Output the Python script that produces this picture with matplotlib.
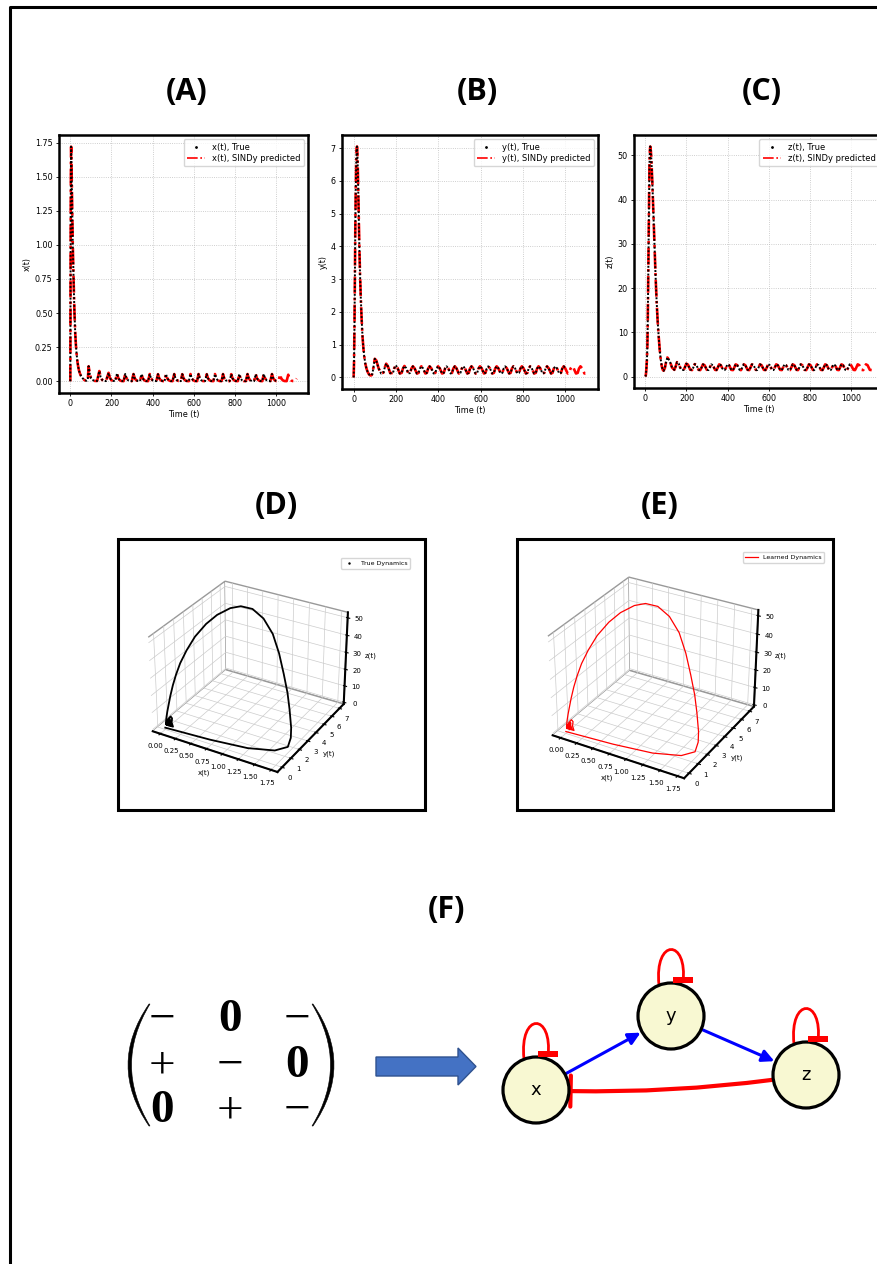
import numpy as np
import matplotlib
matplotlib.use('Agg')
import matplotlib.pyplot as plt
from matplotlib.lines import Line2D
from matplotlib.patches import Rectangle, Circle, FancyArrow, FancyArrowPatch, PathPatch
from matplotlib.path import Path

W, H = 878, 1264

# sampled trajectory of the true system (t <= 1000)
t_true = [
    0, 1, 2, 3, 4, 5, 6, 8, 10, 12, 14, 16, 18, 20, 22, 24, 27, 30, 34, 38,
    42, 46, 50, 55, 60, 65, 70, 75, 80, 85,
    89, 95, 100, 107, 118, 130,
    141, 147, 154, 162, 173,
    186, 192, 199, 207, 218,
    227, 233, 240, 248, 259,
    267, 273, 280, 288, 299,
    307, 313, 320, 328, 339,
    346, 352, 359, 367, 378,
    386, 392, 399, 407, 418,
    426, 432, 439, 447, 458,
    465, 471, 478, 486, 497,
    505, 511, 518, 526, 537,
    544, 550, 557, 565, 576,
    584, 590, 597, 605, 616,
    623, 629, 636, 644, 655,
    663, 669, 676, 684, 695,
    703, 709, 716, 724, 735,
    742, 748, 755, 763, 774,
    782, 788, 795, 803, 814,
    821, 827, 834, 842, 853,
    861, 867, 874, 882, 893,
    901, 907, 914, 922, 933,
    940, 946, 953, 961, 972,
    980, 986, 993, 1000,
]
x_true = [
    0.0, 0.70, 1.25, 1.60, 1.72, 1.66, 1.56, 1.35, 1.17, 1.00, 0.86, 0.74, 0.62, 0.51, 0.42, 0.35, 0.27, 0.21, 0.15, 0.11,
    0.08, 0.06, 0.045, 0.032, 0.022, 0.014, 0.008, 0.005, 0.004, 0.010,
    0.110, 0.050, 0.025, 0.010, 0.003, 0.002,
    0.075, 0.032, 0.011, 0.004, 0.001,
    0.062, 0.026, 0.009, 0.003, 0.001,
    0.057, 0.024, 0.008, 0.002, 0.001,
    0.054, 0.023, 0.008, 0.002, 0.001,
    0.053, 0.022, 0.008, 0.002, 0.001,
    0.053, 0.022, 0.008, 0.002, 0.001,
    0.053, 0.022, 0.008, 0.002, 0.001,
    0.052, 0.022, 0.008, 0.002, 0.001,
    0.053, 0.022, 0.008, 0.002, 0.001,
    0.053, 0.022, 0.008, 0.002, 0.001,
    0.052, 0.022, 0.008, 0.002, 0.001,
    0.053, 0.022, 0.008, 0.002, 0.001,
    0.053, 0.022, 0.008, 0.002, 0.001,
    0.052, 0.022, 0.008, 0.002, 0.001,
    0.053, 0.022, 0.008, 0.002, 0.001,
    0.053, 0.022, 0.008, 0.002, 0.001,
    0.052, 0.022, 0.008, 0.002, 0.001,
    0.053, 0.022, 0.008, 0.002, 0.001,
    0.053, 0.022, 0.008, 0.002, 0.001,
    0.052, 0.022, 0.008, 0.002, 0.001,
    0.053, 0.022, 0.008, 0.002, 0.001,
    0.053, 0.022, 0.008, 0.002,
]
y_true = [
    0.0, 0.2, 0.5, 1.0, 1.6, 2.4, 3.2, 4.6, 5.7, 6.5, 6.95, 7.05, 6.8, 6.3, 5.6, 4.9, 4.0, 3.2, 2.4, 1.75,
    1.25, 0.9, 0.65, 0.43, 0.29, 0.19, 0.12, 0.08, 0.06, 0.07,
    0.12, 0.36, 0.57, 0.52, 0.28, 0.12,
    0.15, 0.30, 0.42, 0.34, 0.13,
    0.14, 0.28, 0.37, 0.30, 0.12,
    0.14, 0.27, 0.35, 0.29, 0.12,
    0.14, 0.27, 0.34, 0.28, 0.12,
    0.14, 0.27, 0.34, 0.28, 0.12,
    0.14, 0.27, 0.34, 0.28, 0.12,
    0.14, 0.27, 0.34, 0.28, 0.12,
    0.14, 0.27, 0.34, 0.28, 0.12,
    0.14, 0.27, 0.34, 0.28, 0.12,
    0.14, 0.27, 0.34, 0.28, 0.12,
    0.14, 0.27, 0.34, 0.28, 0.12,
    0.14, 0.27, 0.34, 0.28, 0.12,
    0.14, 0.27, 0.34, 0.28, 0.12,
    0.14, 0.27, 0.34, 0.28, 0.12,
    0.14, 0.27, 0.34, 0.28, 0.12,
    0.14, 0.27, 0.34, 0.28, 0.12,
    0.14, 0.27, 0.34, 0.28, 0.12,
    0.14, 0.27, 0.34, 0.28, 0.12,
    0.14, 0.27, 0.34, 0.28, 0.12,
    0.14, 0.27, 0.34, 0.28, 0.12,
    0.14, 0.27, 0.34, 0.28, 0.12,
    0.14, 0.27, 0.34, 0.28,
]
z_true = [
    0.0, 0.1, 0.2, 0.5, 1.0, 1.6, 2.3, 4.0, 7.0, 13.0, 22.0, 32.0, 41.0, 47.5, 51.0, 52.0, 51.0, 48.5, 44.0, 38.5,
    33.0, 27.5, 22.5, 17.0, 12.5, 9.0, 6.0, 3.8, 2.3, 1.5,
    1.3, 1.9, 3.1, 4.3, 3.6, 2.0,
    1.5, 2.2, 3.25, 2.95, 1.6,
    1.45, 2.05, 2.9, 2.7, 1.55,
    1.45, 2.0, 2.8, 2.6, 1.5,
    1.45, 2.0, 2.75, 2.55, 1.5,
    1.45, 2.0, 2.75, 2.55, 1.5,
    1.45, 2.0, 2.75, 2.55, 1.5,
    1.45, 2.0, 2.75, 2.55, 1.5,
    1.45, 2.0, 2.75, 2.55, 1.5,
    1.45, 2.0, 2.75, 2.55, 1.5,
    1.45, 2.0, 2.75, 2.55, 1.5,
    1.45, 2.0, 2.75, 2.55, 1.5,
    1.45, 2.0, 2.75, 2.55, 1.5,
    1.45, 2.0, 2.75, 2.55, 1.5,
    1.45, 2.0, 2.75, 2.55, 1.5,
    1.45, 2.0, 2.75, 2.55, 1.5,
    1.45, 2.0, 2.75, 2.55, 1.5,
    1.45, 2.0, 2.75, 2.55, 1.5,
    1.45, 2.0, 2.75, 2.55, 1.5,
    1.45, 2.0, 2.75, 2.55, 1.5,
    1.45, 2.0, 2.75, 2.55, 1.5,
    1.45, 2.0, 2.75, 2.55, 1.5,
    1.45, 2.0, 2.75, 2.55,
]

# SINDy model continues past the training window
t_ext = [1012, 1019, 1025, 1032, 1040, 1051, 1059, 1065, 1072, 1080, 1091, 1100]
x_ext = [0.001, 0.050, 0.021, 0.008, 0.002, 0.001, 0.048, 0.020, 0.007, 0.002, 0.001, 0.020]
y_ext = [0.12, 0.14, 0.27, 0.34, 0.28, 0.12, 0.14, 0.27, 0.34, 0.28, 0.12, 0.14]
z_ext = [1.50, 1.45, 2.00, 2.75, 2.55, 1.50, 1.45, 2.00, 2.75, 2.55, 1.50, 1.45]

t_pred = t_true + t_ext
x_pred = x_true + x_ext
y_pred = y_true + y_ext
z_pred = z_true + z_ext

# sign pattern of the identified Jacobian (row = target, column = source)
species = ['x', 'y', 'z']
jac_signs = [['−', '0', '−'],
             ['+', '−', '0'],
             ['0', '+', '−']]


def px_rect(left, top, right, bottom):
    return [left / W, 1 - bottom / H, (right - left) / W, (bottom - top) / H]


fig = plt.figure(figsize=(W / 100, H / 100), dpi=100)

label_font = dict(fontsize=22, fontweight='bold', family=['Open Sans', 'DejaVu Sans'],
                  ha='center', va='center')


def time_panel(rect, name, true_vals, pred_vals):
    ax = fig.add_axes(px_rect(*rect))
    ax.plot(t_pred, pred_vals, color='red', ls='-.', lw=1.9)
    ax.plot(t_true, true_vals, color='k', ls=(0, (1, 1)), lw=1.4)
    handles = [Line2D([], [], color='k', marker='.', ls='none', markersize=2),
               Line2D([], [], color='red', ls='-.', lw=1.2)]
    ax.legend(handles, [f'{name}(t), True', f'{name}(t), SINDy predicted'],
              loc='upper right', fontsize=6, handlelength=2.2, borderpad=0.4,
              labelspacing=0.3)
    ax.grid(True, ls=':', lw=0.6, color='0.75')
    for sp in ax.spines.values():
        sp.set_linewidth(1.8)
    ax.tick_params(labelsize=5.8, length=2.5, width=0.6, pad=2)
    ax.set_xlabel('Time (t)', fontsize=5.8, labelpad=1)
    ax.set_ylabel(f'{name}(t)', fontsize=5.8, labelpad=2)
    return ax


time_panel((59, 135, 308, 393), 'x', x_true, x_pred)
time_panel((342, 135, 598, 389), 'y', y_true, y_pred)
time_panel((634, 135, 883, 388), 'z', z_true, z_pred)

for lab, cx, cy in [('(A)', 187, 92), ('(B)', 477, 92), ('(C)', 762, 92),
                    ('(D)', 276, 506), ('(E)', 660, 506), ('(F)', 447, 910)]:
    fig.text(cx / W, 1 - cy / H, lab, **label_font)


def phase_panel(rect, legend_corner, xs, ys, zs, color, lw, handle, text):
    ax = fig.add_axes(px_rect(*rect), projection='3d')
    ax.plot(xs, ys, zs, color=color, lw=lw)
    for axis in (ax.xaxis, ax.yaxis, ax.zaxis):
        axis.set_pane_color((1, 1, 1, 1))
        axis._axinfo['grid'].update(color='0.8', linewidth=0.5)
        axis.pane.set_edgecolor('0.6')
        axis.line.set_linewidth(1.5)
    ax.tick_params(labelsize=5, pad=-3)
    ax.set_xlabel('x(t)', fontsize=5, labelpad=-10)
    ax.set_ylabel('y(t)', fontsize=5, labelpad=-10)
    ax.set_zlabel('z(t)', fontsize=5, labelpad=-10)
    lx, ly = legend_corner
    ax.legend([handle], [text], loc='upper right', fontsize=4.5, borderpad=0.4,
              bbox_to_anchor=(lx / W, 1 - ly / H), bbox_transform=fig.transFigure)
    return ax


phase_panel((119, 564, 375, 786), (413, 555), x_true, y_true, z_true, 'k', 1.3,
            Line2D([], [], color='k', marker='.', ls='none', markersize=1.5), 'True Dynamics')
phase_panel((512, 559, 792, 793), (827, 549), x_pred, y_pred, z_pred, 'red', 0.9,
            Line2D([], [], color='red', lw=0.9), 'Learned Dynamics')

# overlay in pixel coordinates for frames and the network diagram
ov = fig.add_axes([0, 0, 1, 1])
ov.set_xlim(0, W)
ov.set_ylim(H, 0)
ov.axis('off')
ov.patch.set_visible(False)

ov.plot([10, 10, W], [H, 7, 7], color='k', lw=2.2, solid_capstyle='butt')
for (l, t, r, b) in [(118, 539, 425, 810), (517, 539, 833, 810)]:
    ov.add_patch(Rectangle((l, t), r - l, b - t, fill=False, ec='k', lw=2.2))

# matrix of signs
col_x = [162, 230, 297]
row_y = [1020, 1066, 1111]
for i, row in enumerate(jac_signs):
    for j, s in enumerate(row):
        ov.text(col_x[j], row_y[i], s, fontsize=34, ha='center', va='center',
                family='Liberation Serif', fontweight='bold' if s == '0' else 'normal')

for side in (-1, 1):
    xe = 149 if side < 0 else 313
    xo = xe + side * 42
    xi = xe + side * 36
    verts = [(xe, 1004), (xo, 1065), (xe, 1126), (xe - side * 1, 1126),
             (xi, 1065), (xe - side * 1, 1004), (xe, 1004)]
    codes = [Path.MOVETO, Path.CURVE3, Path.CURVE3, Path.LINETO,
             Path.CURVE3, Path.CURVE3, Path.CLOSEPOLY]
    ov.add_patch(PathPatch(Path(verts, codes), fc='k', ec='k', lw=0.4))

ov.add_patch(FancyArrow(376, 1066.5, 100, 0, width=19, head_width=37, head_length=18,
                        length_includes_head=True, fc='#4472C4', ec='#2F528F', lw=1))

pos = {'x': (536, 1090), 'y': (671, 1016), 'z': (806, 1075)}
r = 33
nodes = {}
for n, (cx, cy) in pos.items():
    c = Circle((cx, cy), r, fc='#F8F8D2', ec='k', lw=2.3, zorder=3)
    ov.add_patch(c)
    nodes[n] = c
    ov.text(cx, cy, n, fontsize=13, ha='center', va='center', zorder=4)

for i, target in enumerate(species):
    for j, source in enumerate(species):
        s = jac_signs[i][j]
        if s == '0':
            continue
        if source == target:
            cx, cy = pos[source]
            top = cy - r
            verts = [(cx - 12, top + 2), (cx - 17, top - 45), (cx + 17, top - 45), (cx + 12, top)]
            ov.add_patch(PathPatch(Path(verts, [Path.MOVETO, Path.CURVE4, Path.CURVE4, Path.CURVE4]),
                                   fc='none', ec='red', lw=2.0, zorder=2))
            ov.add_patch(Rectangle((cx + 2, top - 6), 20, 6, fc='red', ec='none', zorder=5))
        elif s == '+':
            ov.add_patch(FancyArrowPatch(pos[source], pos[target], patchA=nodes[source],
                                         patchB=nodes[target], arrowstyle='-|>', mutation_scale=18,
                                         color='blue', lw=2.2, zorder=2))
        else:
            ov.add_patch(FancyArrowPatch(pos[source], pos[target], patchA=nodes[source],
                                         patchB=nodes[target], arrowstyle='-[, widthB=0.7, lengthB=0',
                                         connectionstyle='arc3,rad=-0.05', mutation_scale=16,
                                         color='red', lw=3.0, zorder=2))

fig.savefig('out.png', dpi=100)
